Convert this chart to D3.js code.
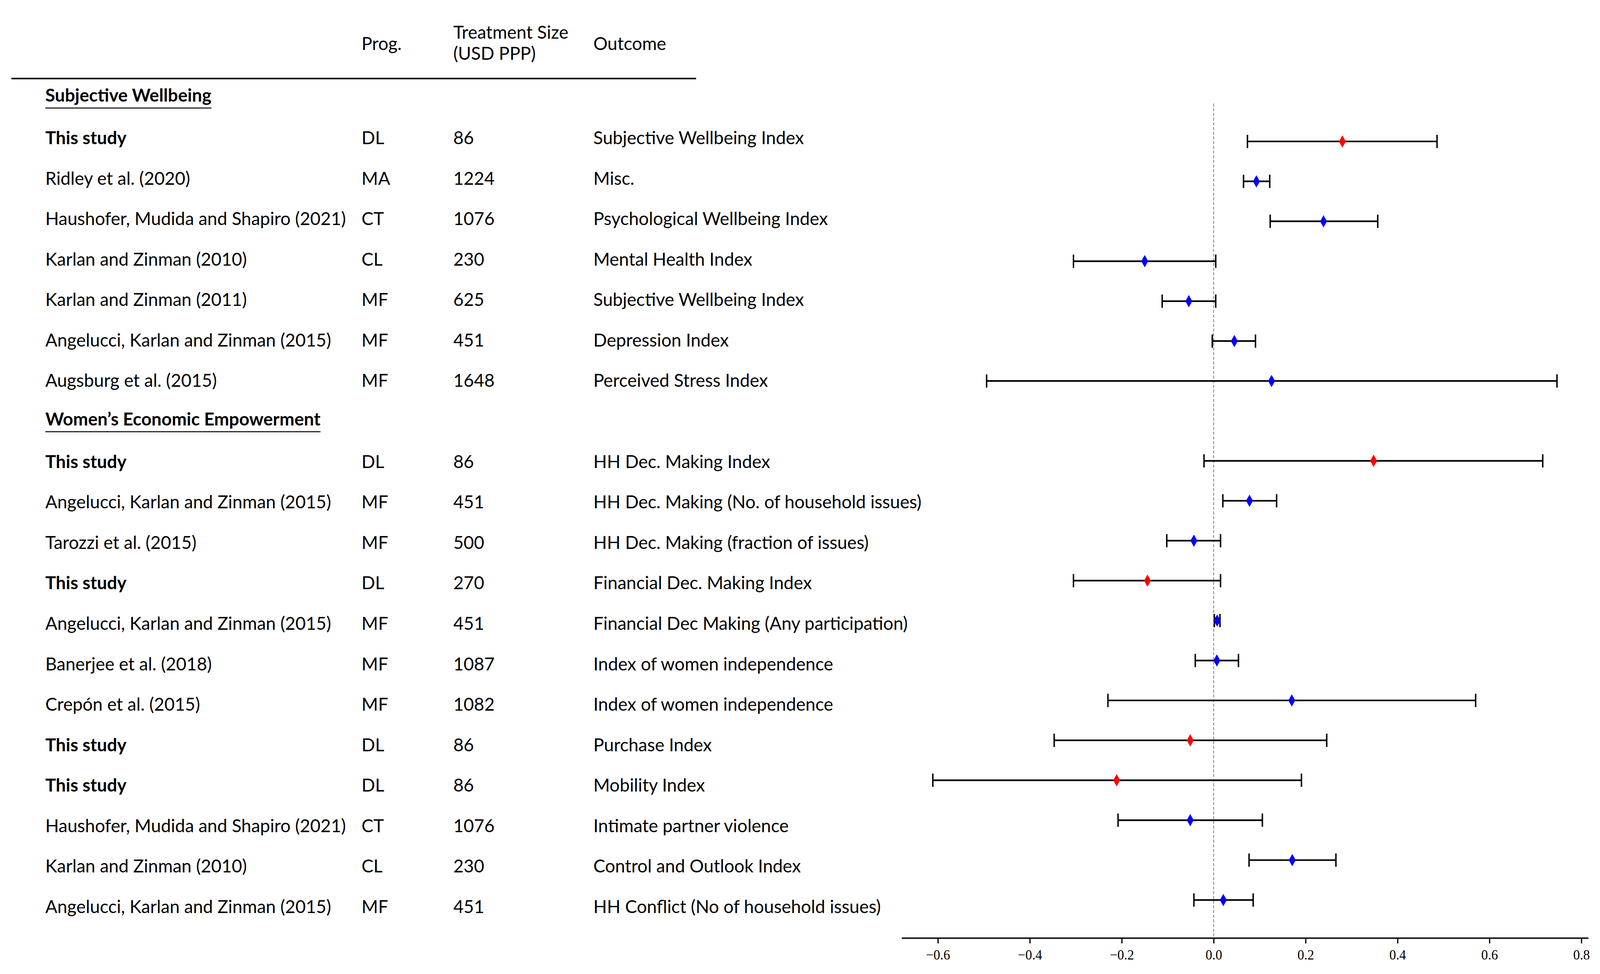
<!DOCTYPE html>
<html>
<head>
<meta charset="utf-8">
<script src="https://cdn.jsdelivr.net/npm/d3@7"></script>
<style>
  html, body { margin: 0; padding: 0; background: #fff; overflow: hidden; }
  svg { display: block; width: 100vw; height: 100vh; }
  .tbl { font-family: Lato, "Noto Sans", sans-serif; fill: #000; }
  .tick text { font-family: "Liberation Serif", "DejaVu Serif", serif; }
</style>
</head>
<body>
<svg id="chart"></svg>
<script>
const W = 4204, H = 2493;

// ---- data ----
const sectionTitles = ["Subjective Wellbeing", "Women\u2019s Economic Empowerment"];
const sectionOf = [0, 0, 0, 0, 0, 0, 0, 1, 1, 1, 1, 1, 1, 1, 1, 1, 1, 1, 1];

const studies = [
  "This study", "Ridley et al. (2020)", "Haushofer, Mudida and Shapiro (2021)",
  "Karlan and Zinman (2010)", "Karlan and Zinman (2011)", "Angelucci, Karlan and Zinman (2015)",
  "Augsburg et al. (2015)",
  "This study", "Angelucci, Karlan and Zinman (2015)", "Tarozzi et al. (2015)", "This study",
  "Angelucci, Karlan and Zinman (2015)", "Banerjee et al. (2018)", "Crep\u00f3n et al. (2015)",
  "This study", "This study", "Haushofer, Mudida and Shapiro (2021)", "Karlan and Zinman (2010)",
  "Angelucci, Karlan and Zinman (2015)"
];
const programmes = ["DL", "MA", "CT", "CL", "MF", "MF", "MF",
  "DL", "MF", "MF", "DL", "MF", "MF", "MF", "DL", "DL", "CT", "CL", "MF"];
const treatmentSizes = [86, 1224, 1076, 230, 625, 451, 1648,
  86, 451, 500, 270, 451, 1087, 1082, 86, 86, 1076, 230, 451];
const outcomes = [
  "Subjective Wellbeing Index", "Misc.", "Psychological Wellbeing Index", "Mental Health Index",
  "Subjective Wellbeing Index", "Depression Index", "Perceived Stress Index",
  "HH Dec. Making Index", "HH Dec. Making (No. of household issues)", "HH Dec. Making (fraction of issues)",
  "Financial Dec. Making Index", "Financial Dec Making (Any participation)", "Index of women independence",
  "Index of women independence", "Purchase Index", "Mobility Index", "Intimate partner violence",
  "Control and Outlook Index", "HH Conflict (No of household issues)"
];
const estimates = [0.280, 0.093, 0.239, -0.150, -0.054, 0.045, 0.126,
  0.348, 0.078, -0.043, -0.144, 0.0076, 0.007, 0.170, -0.051, -0.211, -0.051, 0.171, 0.021];
const ciLower = [0.0735, 0.065, 0.123, -0.305, -0.112, -0.003, -0.494,
  -0.021, 0.020, -0.102, -0.305, 0.0015, -0.040, -0.230, -0.347, -0.611, -0.208, 0.077, -0.043];
const ciUpper = [0.486, 0.122, 0.357, 0.0045, 0.0045, 0.091, 0.747,
  0.716, 0.137, 0.015, 0.015, 0.0138, 0.054, 0.570, 0.246, 0.191, 0.106, 0.266, 0.086];

const xTicks = [-0.6, -0.4, -0.2, 0.0, 0.2, 0.4, 0.6, 0.8];
const columnHeads = [["Prog."], ["Treatment Size", "(USD PPP)"], ["Outcome"]];

// ---- layout: a slot per section title, then one per row ----
const headers = [], rows = [];
let slot = 0;
sectionTitles.forEach((title, s) => {
  headers.push({ title, slot: slot++ });
  studies.forEach((st, i) => {
    if (sectionOf[i] !== s) return;
    rows.push({
      study: st, prog: programmes[i], size: treatmentSizes[i], outcome: outcomes[i],
      est: estimates[i], lo: ciLower[i], hi: ciUpper[i], slot: slot++,
      own: st === "This study"
    });
  });
});
const lastSlot = slot - 1;

// the drawing is laid out on a fixed 4204x2493 grid and stretched to the window
const svg = d3.select("#chart")
  .attr("viewBox", `0 0 ${W} ${H}`)
  .attr("preserveAspectRatio", "none");

// ---- table ----
const colX = [119, 950, 1191, 1559];
const yText = d3.scaleLinear().domain([1, lastSlot]).range([369, 2337]);

// fit the body font to the reference width of the longest citation
const probe = svg.append("text").attr("class", "tbl").style("font-size", "100px")
  .text("Haushofer, Mudida and Shapiro (2021)");
const fs = 100 * 790 / probe.node().getComputedTextLength();
probe.remove();

const tbl = svg.append("g").attr("class", "tbl").style("font-size", fs + "px");

columnHeads.forEach((lines, c) => {
  const t = tbl.append("text");
  lines.forEach((l, k) => {
    t.append("tspan").attr("x", colX[c + 1])
      .attr("y", lines.length > 1 ? 99 + k * 54 : 128).text(l);
  });
});

tbl.append("line").attr("x1", 30).attr("x2", 1829).attr("y1", 201).attr("y2", 201)
  .attr("stroke", "#000").attr("stroke-width", 4);

headers.forEach(h => {
  const yb = yText(h.slot) - 5;
  const t = tbl.append("text").attr("x", colX[0]).attr("y", yb)
    .attr("font-weight", "bold").text(h.title);
  const w = t.node().getComputedTextLength();
  tbl.append("line").attr("x1", colX[0]).attr("x2", colX[0] + w)
    .attr("y1", yb + 16).attr("y2", yb + 16)
    .attr("stroke", "#000").attr("stroke-width", 2.5);
});

const rowG = tbl.selectAll("g.row").data(rows).join("g").attr("class", "row")
  .attr("transform", d => `translate(0,${yText(d.slot)})`);
rowG.append("text").attr("x", colX[0]).attr("font-weight", d => d.own ? "bold" : "normal").text(d => d.study);
rowG.append("text").attr("x", colX[1]).text(d => d.prog);
rowG.append("text").attr("x", colX[2]).text(d => d.size);
rowG.append("text").attr("x", colX[3]).text(d => d.outcome);

// ---- forest plot ----
const allVals = ciLower.concat(ciUpper);
const [vmin, vmax] = d3.extent(allVals);
const pad = (vmax - vmin) * 0.05;
const x = d3.scaleLinear().domain([vmin - pad, vmax + pad]).range([2369, 4173]);
const y = d3.scaleLinear().domain([1, lastSlot]).range([362, 2303.7]);
const yTop = y(1 - 0.05 * (lastSlot - 1)), yBot = y(lastSlot + 0.05 * (lastSlot - 1));

const plot = svg.append("g");

plot.append("line")
  .attr("x1", x(0)).attr("x2", x(0)).attr("y1", yTop).attr("y2", yBot)
  .attr("stroke", "#808080").attr("stroke-width", 2).attr("stroke-dasharray", "8,4");

const bars = plot.selectAll("g.bar").data(rows).join("g").attr("class", "bar")
  .attr("transform", d => `translate(0,${y(d.slot)})`);
bars.append("line").attr("x1", d => x(d.lo)).attr("x2", d => x(d.hi))
  .attr("stroke", "#000").attr("stroke-width", 4.2);
bars.selectAll("line.cap").data(d => [d.lo, d.hi]).join("line").attr("class", "cap")
  .attr("x1", v => x(v)).attr("x2", v => x(v)).attr("y1", -17).attr("y2", 17)
  .attr("stroke", "#000").attr("stroke-width", 3.8);
bars.append("path")
  .attr("d", d3.symbol().type(d3.symbolDiamond).size(285))
  .attr("transform", d => `translate(${x(d.est)},0)`)
  .attr("fill", d => d.own ? "#ff0000" : "#0000ff");

const axis = plot.append("g").attr("transform", `translate(0,${yBot})`)
  .call(d3.axisBottom(x).tickValues(xTicks).tickSize(14).tickSizeOuter(0)
    .tickPadding(16).tickFormat(d3.format(".1f")));
axis.select(".domain").attr("stroke", "#000").attr("stroke-width", 3.4);
axis.selectAll(".tick line").attr("stroke", "#000").attr("stroke-width", 3.2);
axis.selectAll(".tick text").attr("fill", "#000").style("font-size", "35px")
  .attr("font-family", null);
</script>
</body>
</html>
